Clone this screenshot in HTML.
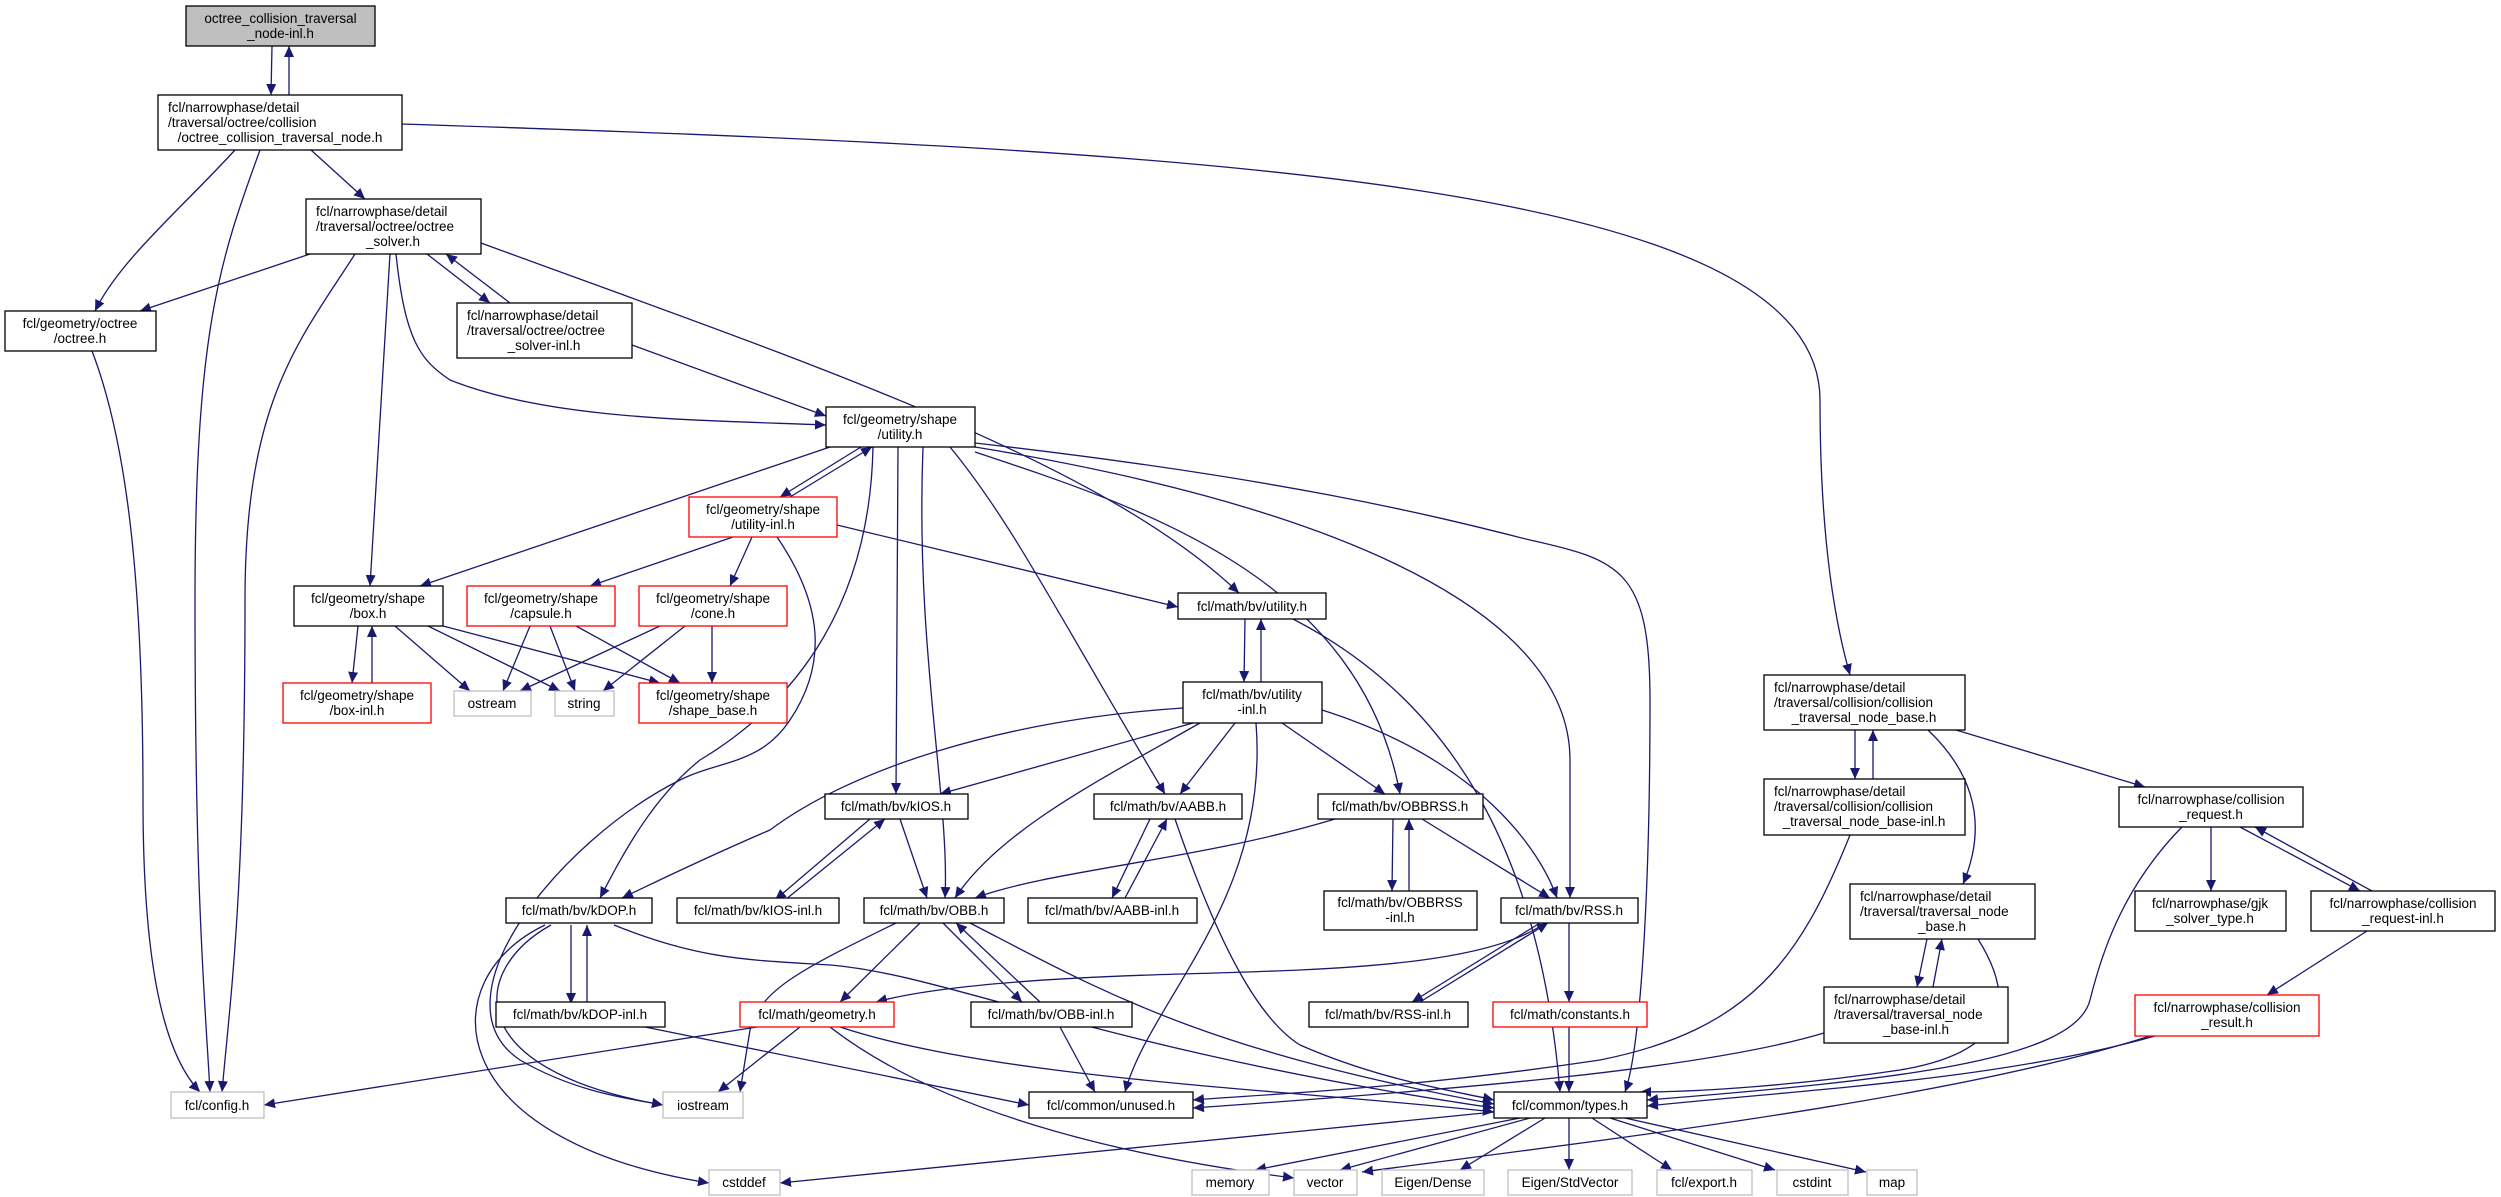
<!DOCTYPE html>
<html><head><meta charset="utf-8"><style>
html,body{margin:0;padding:0;background:#fff}
svg{display:block}
text{font-family:"Liberation Sans",sans-serif;font-size:13.5px;fill:#000}
.e{fill:none;stroke:#191970;stroke-width:1.3}
.n{fill:#fff;stroke:#000;stroke-width:1.3}
.r{fill:#fff;stroke:#ff0000;stroke-width:1.3}
.g{fill:#fff;stroke:#bfbfbf;stroke-width:1.3}
</style></head><body>
<svg width="2501" height="1197" viewBox="0 0 2501 1197" xmlns="http://www.w3.org/2000/svg">
<defs><marker id="a" markerWidth="12" markerHeight="10" refX="11" refY="5" orient="auto" markerUnits="userSpaceOnUse"><path d="M0,0 L11,5 L0,10 z" fill="#191970"/></marker></defs>
<g class="e" marker-end="url(#a)">
<path d="M272,46 L271,95"/>
<path d="M289,95 L289,46"/>
<path d="M235,150 C180,210 120,260 95,311"/>
<path d="M260,150 C220,260 195,330 195,600 C195,900 205,1000 210,1092"/>
<path d="M311,150 L365,199"/>
<path d="M402,124 C1200,150 1820,180 1820,400 C1820,560 1840,640 1850,675"/>
<path d="M310,254 L140,311"/>
<path d="M355,254 C300,340 245,400 245,600 C245,900 230,1000 222,1092"/>
<path d="M390,254 L370,586"/>
<path d="M427,254 L490,303"/>
<path d="M510,303 L446,254"/>
<path d="M396,254 C405,340 420,360 450,380 C550,420 700,420 826,425"/>
<path d="M481,243 C800,360 1100,460 1239,593"/>
<path d="M632,345 L826,416"/>
<path d="M830,447 L420,586"/>
<path d="M861,447 L780,497"/>
<path d="M790,497 L872,447"/>
<path d="M873,447 C870,600 800,700 700,760 C650,800 620,860 600,898"/>
<path d="M898,447 L896,794"/>
<path d="M923,447 C915,650 950,800 945,898"/>
<path d="M950,447 C1010,520 1050,600 1165,794"/>
<path d="M975,452 C1150,510 1360,580 1400,794"/>
<path d="M975,447 C1300,500 1570,600 1570,760 L1570,898"/>
<path d="M975,443 C1300,480 1450,520 1530,540 C1620,560 1650,570 1650,700 C1650,900 1640,1050 1625,1092"/>
<path d="M733,537 L590,586"/>
<path d="M752,537 L730,586"/>
<path d="M837,525 L1178,607"/>
<path d="M777,537 C820,600 830,660 790,720 C760,765 720,760 680,780 C560,840 430,1000 520,1060 C580,1095 640,1100 663,1105"/>
<path d="M358,626 L352,683"/>
<path d="M372,683 L372,626"/>
<path d="M395,626 L470,691"/>
<path d="M428,626 L560,691"/>
<path d="M443,626 L660,683"/>
<path d="M530,626 L503,691"/>
<path d="M550,626 L575,691"/>
<path d="M576,626 L680,683"/>
<path d="M660,626 L520,691"/>
<path d="M685,626 L603,691"/>
<path d="M712,626 L712,683"/>
<path d="M92,351 C130,450 143,600 143,800 C143,950 160,1050 200,1092"/>
<path d="M1245,619 L1244,682"/>
<path d="M1261,682 L1261,619"/>
<path d="M1293,619 C1450,700 1540,850 1560,1092"/>
<path d="M1183,708 C1000,720 850,770 770,830 C700,860 660,880 622,898"/>
<path d="M1193,723 L940,794"/>
<path d="M1200,723 C1100,780 1000,830 955,898"/>
<path d="M1235,723 L1180,794"/>
<path d="M1282,723 L1385,794"/>
<path d="M1256,723 C1270,900 1150,1000 1125,1092"/>
<path d="M1322,710 C1480,760 1540,850 1557,898"/>
<path d="M900,819 L927,898"/>
<path d="M870,819 L775,900"/>
<path d="M785,900 L885,819"/>
<path d="M1335,819 C1200,860 1050,870 975,898"/>
<path d="M1393,819 L1392,891"/>
<path d="M1409,891 L1409,819"/>
<path d="M1422,819 L1550,898"/>
<path d="M1150,819 L1112,898"/>
<path d="M1125,898 L1167,819"/>
<path d="M1175,819 C1220,950 1260,1020 1300,1045 C1380,1080 1450,1090 1494,1100"/>
<path d="M571,925 L571,1004"/>
<path d="M587,1004 L587,925"/>
<path d="M614,925 C700,960 750,960 830,965 C950,975 1100,1050 1494,1108"/>
<path d="M551,925 C470,970 460,1070 663,1105"/>
<path d="M545,925 C430,980 440,1140 709,1183"/>
<path d="M896,923 C800,970 760,990 750,1030 C745,1060 742,1080 740,1092"/>
<path d="M920,923 L840,1002"/>
<path d="M943,923 L1022,1002"/>
<path d="M1040,1002 L956,923"/>
<path d="M970,923 C1100,990 1200,1050 1494,1104"/>
<path d="M1545,923 C1480,970 1300,970 1150,975 C1000,980 920,990 876,1002"/>
<path d="M1540,923 L1412,1002"/>
<path d="M1420,1002 L1548,923"/>
<path d="M1569,923 L1569,1002"/>
<path d="M757,1027 L264,1105"/>
<path d="M800,1027 L718,1092"/>
<path d="M840,1027 C1000,1080 1300,1090 1494,1112"/>
<path d="M830,1027 C950,1120 1150,1160 1294,1178"/>
<path d="M1060,1027 L1095,1092"/>
<path d="M645,1027 L1029,1105"/>
<path d="M1569,1027 L1569,1092"/>
<path d="M1494,1112 L780,1183"/>
<path d="M1520,1118 L1255,1170"/>
<path d="M1530,1118 L1340,1170"/>
<path d="M1545,1118 L1460,1170"/>
<path d="M1569,1118 L1569,1170"/>
<path d="M1592,1118 L1672,1170"/>
<path d="M1610,1118 L1775,1170"/>
<path d="M1625,1118 L1866,1172"/>
<path d="M1850,835 C1800,960 1750,1030 1600,1060 C1400,1090 1250,1095 1193,1100"/>
<path d="M1824,1033 C1700,1070 1450,1090 1193,1108"/>
<path d="M1855,730 L1855,779"/>
<path d="M1873,779 L1873,730"/>
<path d="M1928,730 C1970,770 1990,820 1963,884"/>
<path d="M1956,730 L2145,787"/>
<path d="M2211,827 L2211,891"/>
<path d="M2240,827 L2360,891"/>
<path d="M2372,891 L2255,827"/>
<path d="M2182,827 C2120,890 2100,960 2090,1000 C2075,1060 1900,1080 1647,1100"/>
<path d="M2367,931 L2267,995"/>
<path d="M2155,1036 C2000,1080 1800,1090 1647,1106"/>
<path d="M2150,1036 C1950,1100 1600,1140 1362,1172"/>
<path d="M1978,939 C2010,990 2020,1050 1900,1070 C1800,1085 1700,1092 1640,1092"/>
<path d="M1927,939 L1917,987"/>
<path d="M1933,987 L1942,939"/>
</g>

<!-- nodes -->
<rect x="186" y="6" width="189" height="40" fill="#bfbfbf" stroke="#000" stroke-width="1.3"/>
<text x="280.5" y="23" text-anchor="middle">octree_collision_traversal</text>
<text x="280.5" y="38" text-anchor="middle">_node-inl.h</text>

<rect class="n" x="158" y="95" width="244" height="55"/>
<text x="168" y="112">fcl/narrowphase/detail</text>
<text x="168" y="127">/traversal/octree/collision</text>
<text x="280" y="142" text-anchor="middle">/octree_collision_traversal_node.h</text>

<rect class="n" x="306" y="199" width="175" height="55"/>
<text x="316" y="216">fcl/narrowphase/detail</text>
<text x="316" y="231">/traversal/octree/octree</text>
<text x="393" y="246" text-anchor="middle">_solver.h</text>

<rect class="n" x="457" y="303" width="175" height="55"/>
<text x="467" y="320">fcl/narrowphase/detail</text>
<text x="467" y="335">/traversal/octree/octree</text>
<text x="544" y="350" text-anchor="middle">_solver-inl.h</text>

<rect class="n" x="5" y="311" width="151" height="40"/>
<text x="80" y="328" text-anchor="middle">fcl/geometry/octree</text>
<text x="80" y="343" text-anchor="middle">/octree.h</text>

<rect class="n" x="826" y="407" width="149" height="40"/>
<text x="900" y="424" text-anchor="middle">fcl/geometry/shape</text>
<text x="900" y="439" text-anchor="middle">/utility.h</text>

<rect class="r" x="689" y="497" width="148" height="40"/>
<text x="763" y="514" text-anchor="middle">fcl/geometry/shape</text>
<text x="763" y="529" text-anchor="middle">/utility-inl.h</text>

<rect class="n" x="294" y="586" width="149" height="40"/>
<text x="368" y="603" text-anchor="middle">fcl/geometry/shape</text>
<text x="368" y="618" text-anchor="middle">/box.h</text>
<rect class="r" x="467" y="586" width="148" height="40"/>
<text x="541" y="603" text-anchor="middle">fcl/geometry/shape</text>
<text x="541" y="618" text-anchor="middle">/capsule.h</text>
<rect class="r" x="639" y="586" width="148" height="40"/>
<text x="713" y="603" text-anchor="middle">fcl/geometry/shape</text>
<text x="713" y="618" text-anchor="middle">/cone.h</text>

<rect class="r" x="283" y="683" width="148" height="40"/>
<text x="357" y="700" text-anchor="middle">fcl/geometry/shape</text>
<text x="357" y="715" text-anchor="middle">/box-inl.h</text>
<rect class="g" x="454" y="691" width="77" height="25"/>
<text x="492" y="708" text-anchor="middle">ostream</text>
<rect class="g" x="555" y="691" width="59" height="25"/>
<text x="584" y="708" text-anchor="middle">string</text>
<rect class="r" x="639" y="683" width="148" height="40"/>
<text x="713" y="700" text-anchor="middle">fcl/geometry/shape</text>
<text x="713" y="715" text-anchor="middle">/shape_base.h</text>

<rect class="n" x="1178" y="593" width="148" height="26"/>
<text x="1252" y="611" text-anchor="middle">fcl/math/bv/utility.h</text>
<rect class="n" x="1183" y="682" width="139" height="41"/>
<text x="1252" y="699" text-anchor="middle">fcl/math/bv/utility</text>
<text x="1252" y="714" text-anchor="middle">-inl.h</text>

<rect class="n" x="1764" y="675" width="201" height="55"/>
<text x="1774" y="692">fcl/narrowphase/detail</text>
<text x="1774" y="707">/traversal/collision/collision</text>
<text x="1864" y="722" text-anchor="middle">_traversal_node_base.h</text>
<rect class="n" x="1764" y="779" width="201" height="56"/>
<text x="1774" y="796">fcl/narrowphase/detail</text>
<text x="1774" y="811">/traversal/collision/collision</text>
<text x="1864" y="826" text-anchor="middle">_traversal_node_base-inl.h</text>
<rect class="n" x="2119" y="787" width="184" height="40"/>
<text x="2211" y="804" text-anchor="middle">fcl/narrowphase/collision</text>
<text x="2211" y="819" text-anchor="middle">_request.h</text>
<rect class="n" x="1850" y="884" width="185" height="55"/>
<text x="1860" y="901">fcl/narrowphase/detail</text>
<text x="1860" y="916">/traversal/traversal_node</text>
<text x="1942" y="931" text-anchor="middle">_base.h</text>
<rect class="n" x="2135" y="891" width="151" height="40"/>
<text x="2210" y="908" text-anchor="middle">fcl/narrowphase/gjk</text>
<text x="2210" y="923" text-anchor="middle">_solver_type.h</text>
<rect class="n" x="2311" y="891" width="184" height="40"/>
<text x="2403" y="908" text-anchor="middle">fcl/narrowphase/collision</text>
<text x="2403" y="923" text-anchor="middle">_request-inl.h</text>
<rect class="n" x="1824" y="987" width="184" height="56"/>
<text x="1834" y="1004">fcl/narrowphase/detail</text>
<text x="1834" y="1019">/traversal/traversal_node</text>
<text x="1916" y="1034" text-anchor="middle">_base-inl.h</text>
<rect class="r" x="2135" y="995" width="184" height="41"/>
<text x="2227" y="1012" text-anchor="middle">fcl/narrowphase/collision</text>
<text x="2227" y="1027" text-anchor="middle">_result.h</text>

<rect class="n" x="825" y="794" width="143" height="25"/>
<text x="896" y="811" text-anchor="middle">fcl/math/bv/kIOS.h</text>
<rect class="n" x="1094" y="794" width="148" height="25"/>
<text x="1168" y="811" text-anchor="middle">fcl/math/bv/AABB.h</text>
<rect class="n" x="1318" y="794" width="165" height="25"/>
<text x="1400" y="811" text-anchor="middle">fcl/math/bv/OBBRSS.h</text>

<rect class="n" x="506" y="898" width="146" height="25"/>
<text x="579" y="915" text-anchor="middle">fcl/math/bv/kDOP.h</text>
<rect class="n" x="677" y="898" width="162" height="25"/>
<text x="758" y="915" text-anchor="middle">fcl/math/bv/kIOS-inl.h</text>
<rect class="n" x="864" y="898" width="140" height="25"/>
<text x="934" y="915" text-anchor="middle">fcl/math/bv/OBB.h</text>
<rect class="n" x="1028" y="898" width="169" height="25"/>
<text x="1112" y="915" text-anchor="middle">fcl/math/bv/AABB-inl.h</text>
<rect class="n" x="1324" y="891" width="153" height="39"/>
<text x="1400" y="907" text-anchor="middle">fcl/math/bv/OBBRSS</text>
<text x="1400" y="922" text-anchor="middle">-inl.h</text>
<rect class="n" x="1501" y="898" width="137" height="25"/>
<text x="1569" y="915" text-anchor="middle">fcl/math/bv/RSS.h</text>

<rect class="n" x="496" y="1002" width="169" height="25"/>
<text x="580" y="1019" text-anchor="middle">fcl/math/bv/kDOP-inl.h</text>
<rect class="r" x="740" y="1002" width="154" height="25"/>
<text x="817" y="1019" text-anchor="middle">fcl/math/geometry.h</text>
<rect class="n" x="971" y="1002" width="161" height="25"/>
<text x="1051" y="1019" text-anchor="middle">fcl/math/bv/OBB-inl.h</text>
<rect class="n" x="1309" y="1002" width="159" height="25"/>
<text x="1388" y="1019" text-anchor="middle">fcl/math/bv/RSS-inl.h</text>
<rect class="r" x="1493" y="1002" width="154" height="25"/>
<text x="1570" y="1019" text-anchor="middle">fcl/math/constants.h</text>

<rect class="g" x="171" y="1092" width="93" height="26"/>
<text x="217" y="1110" text-anchor="middle">fcl/config.h</text>
<rect class="g" x="663" y="1092" width="80" height="26"/>
<text x="703" y="1110" text-anchor="middle">iostream</text>
<rect class="n" x="1029" y="1092" width="164" height="26"/>
<text x="1111" y="1110" text-anchor="middle">fcl/common/unused.h</text>
<rect class="n" x="1494" y="1092" width="153" height="26"/>
<text x="1570" y="1110" text-anchor="middle">fcl/common/types.h</text>

<rect class="g" x="709" y="1170" width="71" height="25"/>
<text x="744" y="1187" text-anchor="middle">cstddef</text>
<rect class="g" x="1192" y="1170" width="77" height="25"/>
<text x="1230" y="1187" text-anchor="middle">memory</text>
<rect class="g" x="1294" y="1170" width="63" height="25"/>
<text x="1325" y="1187" text-anchor="middle">vector</text>
<rect class="g" x="1382" y="1170" width="102" height="25"/>
<text x="1433" y="1187" text-anchor="middle">Eigen/Dense</text>
<rect class="g" x="1508" y="1170" width="124" height="25"/>
<text x="1570" y="1187" text-anchor="middle">Eigen/StdVector</text>
<rect class="g" x="1657" y="1170" width="95" height="25"/>
<text x="1704" y="1187" text-anchor="middle">fcl/export.h</text>
<rect class="g" x="1777" y="1170" width="71" height="25"/>
<text x="1812" y="1187" text-anchor="middle">cstdint</text>
<rect class="g" x="1867" y="1170" width="50" height="25"/>
<text x="1892" y="1187" text-anchor="middle">map</text>
</svg>
</body></html>
